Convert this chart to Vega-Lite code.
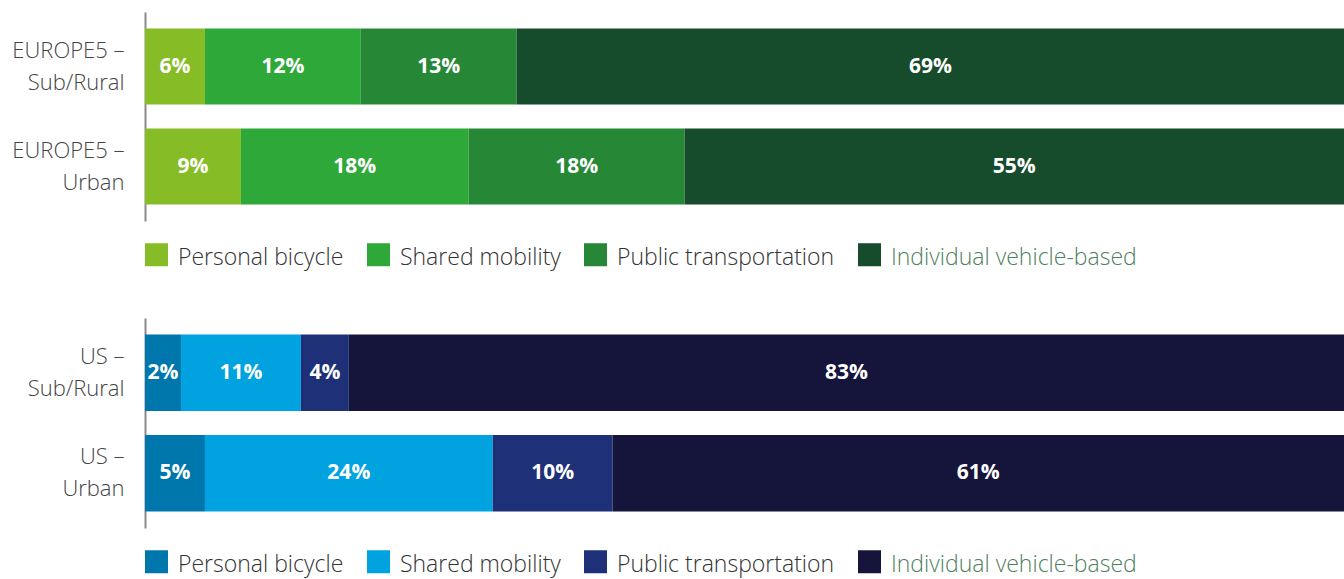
{
  "$schema": "https://vega.github.io/schema/vega-lite/v6.json",
  "padding": {"left": 0, "top": 12, "right": 0, "bottom": 8},
  "background": "white",
  "spacing": 48,
  "config": {
    "view": {"stroke": null},
    "font": "Open Sans",
    "legend": {
      "orient": "bottom",
      "direction": "horizontal",
      "title": null,
      "symbolType": "square",
      "symbolSize": 529,
      "symbolStrokeWidth": 0,
      "symbolOpacity": 1,
      "labelFont": "Open Sans",
      "labelFontWeight": 300,
      "labelFontSize": 23,
      "labelLimit": 400,
      "labelColor": "#333333",
      "labelOffset": 10,
      "columnPadding": 23,
      "offset": 22,
      "padding": 0
    },
    "axisY": {
      "title": null,
      "ticks": false,
      "domainColor": "#8a8a8a",
      "domainWidth": 2,
      "labelFont": "Open Sans",
      "labelFontWeight": 300,
      "labelFontSize": 22,
      "labelColor": "#444444",
      "labelPadding": 21,
      "labelLineHeight": 32,
      "labelOffset": -16,
      "labelLimit": 300,
      "minExtent": 145,
      "maxExtent": 145
    }
  },
  "data": {
    "values": [
      {"region": "EU", "group": "EUROPE5 – Sub/Rural", "mode": "Personal bicycle", "rank": 1, "share": 5, "label": "6%"},
      {"region": "EU", "group": "EUROPE5 – Sub/Rural", "mode": "Shared mobility", "rank": 2, "share": 13, "label": "12%"},
      {"region": "EU", "group": "EUROPE5 – Sub/Rural", "mode": "Public transportation", "rank": 3, "share": 13, "label": "13%"},
      {"region": "EU", "group": "EUROPE5 – Sub/Rural", "mode": "Individual vehicle-based", "rank": 4, "share": 69, "label": "69%"},
      {"region": "EU", "group": "EUROPE5 – Urban", "mode": "Personal bicycle", "rank": 1, "share": 8, "label": "9%"},
      {"region": "EU", "group": "EUROPE5 – Urban", "mode": "Shared mobility", "rank": 2, "share": 19, "label": "18%"},
      {"region": "EU", "group": "EUROPE5 – Urban", "mode": "Public transportation", "rank": 3, "share": 18, "label": "18%"},
      {"region": "EU", "group": "EUROPE5 – Urban", "mode": "Individual vehicle-based", "rank": 4, "share": 55, "label": "55%"},
      {"region": "US", "group": "US – Sub/Rural", "mode": "Personal bicycle", "rank": 1, "share": 3, "label": "2%"},
      {"region": "US", "group": "US – Sub/Rural", "mode": "Shared mobility", "rank": 2, "share": 10, "label": "11%"},
      {"region": "US", "group": "US – Sub/Rural", "mode": "Public transportation", "rank": 3, "share": 4, "label": "4%"},
      {"region": "US", "group": "US – Sub/Rural", "mode": "Individual vehicle-based", "rank": 4, "share": 83, "label": "83%"},
      {"region": "US", "group": "US – Urban", "mode": "Personal bicycle", "rank": 1, "share": 5, "label": "5%"},
      {"region": "US", "group": "US – Urban", "mode": "Shared mobility", "rank": 2, "share": 24, "label": "24%"},
      {"region": "US", "group": "US – Urban", "mode": "Public transportation", "rank": 3, "share": 10, "label": "10%"},
      {"region": "US", "group": "US – Urban", "mode": "Individual vehicle-based", "rank": 4, "share": 61, "label": "61%"}
    ]
  },
  "vconcat": [
    {
      "width": 1199,
      "height": 209,
      "transform": [{"filter": "datum.region === 'EU'"}],
      "encoding": {
        "y": {
          "field": "group",
          "type": "nominal",
          "sort": ["EUROPE5 – Sub/Rural", "EUROPE5 – Urban"],
          "scale": {"paddingInner": 0.24, "paddingOuter": 0.165},
          "axis": {"labelExpr": "[split(datum.value, ' – ')[0] + ' – ', split(datum.value, ' – ')[1]]"}
        }
      },
      "layer": [
        {
          "mark": {"type": "bar"},
          "encoding": {
            "x": {"field": "share", "type": "quantitative", "stack": "zero", "scale": {"domain": [0, 100], "nice": false}, "axis": null},
            "order": {"field": "rank", "type": "quantitative"},
            "color": {
              "field": "mode",
              "type": "nominal",
              "scale": {
                "domain": ["Personal bicycle", "Shared mobility", "Public transportation", "Individual vehicle-based"],
                "range": ["#86BC25", "#2FA83A", "#268737", "#164B2C"]
              },
              "legend": {
                "encode": {"labels": {"update": {"dy": {"value": 3}, "fill": {"signal": "datum.label === 'Individual vehicle-based' ? '#4F7F60' : '#333333'"}}}}
              }
            }
          }
        },
        {
          "mark": {"type": "text", "color": "white", "fontWeight": "bold", "fontSize": 21, "baseline": "middle", "align": "center"},
          "encoding": {
            "x": {"field": "share", "type": "quantitative", "stack": "zero", "bandPosition": 0.5},
            "order": {"field": "rank", "type": "quantitative"},
            "detail": {"field": "mode"},
            "text": {"field": "label"}
          }
        }
      ]
    },
    {
      "width": 1199,
      "height": 210,
      "transform": [{"filter": "datum.region === 'US'"}],
      "encoding": {
        "y": {
          "field": "group",
          "type": "nominal",
          "sort": ["US – Sub/Rural", "US – Urban"],
          "scale": {"paddingInner": 0.24, "paddingOuter": 0.165},
          "axis": {"labelExpr": "[split(datum.value, ' – ')[0] + ' – ', split(datum.value, ' – ')[1]]"}
        }
      },
      "layer": [
        {
          "mark": {"type": "bar"},
          "encoding": {
            "x": {"field": "share", "type": "quantitative", "stack": "zero", "scale": {"domain": [0, 100], "nice": false}, "axis": null},
            "order": {"field": "rank", "type": "quantitative"},
            "color": {
              "field": "mode",
              "type": "nominal",
              "scale": {
                "domain": ["Personal bicycle", "Shared mobility", "Public transportation", "Individual vehicle-based"],
                "range": ["#0077AC", "#00A3E0", "#1E3078", "#15143A"]
              },
              "legend": {
                "encode": {"labels": {"update": {"dy": {"value": 3}, "fill": {"signal": "datum.label === 'Individual vehicle-based' ? '#4F7F60' : '#333333'"}}}}
              }
            }
          }
        },
        {
          "mark": {"type": "text", "color": "white", "fontWeight": "bold", "fontSize": 21, "baseline": "middle", "align": "center"},
          "encoding": {
            "x": {"field": "share", "type": "quantitative", "stack": "zero", "bandPosition": 0.5},
            "order": {"field": "rank", "type": "quantitative"},
            "detail": {"field": "mode"},
            "text": {"field": "label"}
          }
        }
      ]
    }
  ],
  "resolve": {"scale": {"color": "independent", "y": "independent", "x": "independent"}}
}
